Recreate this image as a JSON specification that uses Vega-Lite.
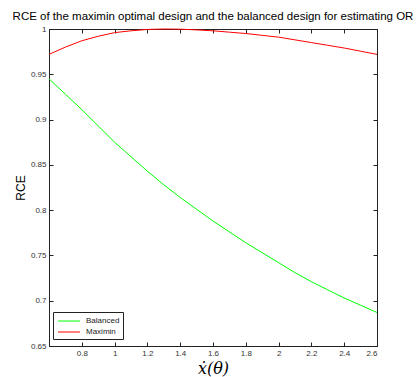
{
  "$schema": "https://vega.github.io/schema/vega-lite/v6.json",
  "width": 328,
  "height": 317,
  "autosize": {"type": "none"},
  "padding": {"left": 49, "top": 29, "right": 40, "bottom": 31},
  "background": "white",
  "title": {
    "text": "RCE of the maximin optimal design and the balanced design for estimating OR",
    "font": "Liberation Sans",
    "fontSize": 11.5,
    "fontWeight": "normal",
    "color": "#000",
    "anchor": "middle",
    "offset": 3
  },
  "config": {
    "view": {"stroke": "#222", "strokeWidth": 1},
    "axis": {
      "grid": false,
      "domainColor": "#222",
      "tickColor": "#222",
      "tickSize": -4,
      "labelFont": "Liberation Sans",
      "labelFontSize": 8,
      "labelColor": "#333",
      "titleColor": "#000"
    }
  },
  "data": {
    "values": [
      {"x": 0.6, "rce": 0.945, "design": "Balanced"},
      {"x": 0.7, "rce": 0.928, "design": "Balanced"},
      {"x": 0.8, "rce": 0.911, "design": "Balanced"},
      {"x": 0.9, "rce": 0.893, "design": "Balanced"},
      {"x": 1.0, "rce": 0.875, "design": "Balanced"},
      {"x": 1.1, "rce": 0.859, "design": "Balanced"},
      {"x": 1.2, "rce": 0.843, "design": "Balanced"},
      {"x": 1.3, "rce": 0.828, "design": "Balanced"},
      {"x": 1.4, "rce": 0.814, "design": "Balanced"},
      {"x": 1.5, "rce": 0.801, "design": "Balanced"},
      {"x": 1.6, "rce": 0.788, "design": "Balanced"},
      {"x": 1.7, "rce": 0.776, "design": "Balanced"},
      {"x": 1.8, "rce": 0.764, "design": "Balanced"},
      {"x": 1.9, "rce": 0.753, "design": "Balanced"},
      {"x": 2.0, "rce": 0.742, "design": "Balanced"},
      {"x": 2.1, "rce": 0.731, "design": "Balanced"},
      {"x": 2.2, "rce": 0.721, "design": "Balanced"},
      {"x": 2.3, "rce": 0.712, "design": "Balanced"},
      {"x": 2.4, "rce": 0.703, "design": "Balanced"},
      {"x": 2.5, "rce": 0.695, "design": "Balanced"},
      {"x": 2.6, "rce": 0.687, "design": "Balanced"},
      {"x": 0.6, "rce": 0.972, "design": "Maximin"},
      {"x": 0.7, "rce": 0.980, "design": "Maximin"},
      {"x": 0.8, "rce": 0.987, "design": "Maximin"},
      {"x": 0.9, "rce": 0.992, "design": "Maximin"},
      {"x": 1.0, "rce": 0.996, "design": "Maximin"},
      {"x": 1.1, "rce": 0.998, "design": "Maximin"},
      {"x": 1.2, "rce": 0.9995, "design": "Maximin"},
      {"x": 1.3, "rce": 1.0, "design": "Maximin"},
      {"x": 1.4, "rce": 0.9998, "design": "Maximin"},
      {"x": 1.5, "rce": 0.999, "design": "Maximin"},
      {"x": 1.6, "rce": 0.998, "design": "Maximin"},
      {"x": 1.7, "rce": 0.9965, "design": "Maximin"},
      {"x": 1.8, "rce": 0.995, "design": "Maximin"},
      {"x": 1.9, "rce": 0.993, "design": "Maximin"},
      {"x": 2.0, "rce": 0.991, "design": "Maximin"},
      {"x": 2.1, "rce": 0.988, "design": "Maximin"},
      {"x": 2.2, "rce": 0.985, "design": "Maximin"},
      {"x": 2.3, "rce": 0.982, "design": "Maximin"},
      {"x": 2.4, "rce": 0.979, "design": "Maximin"},
      {"x": 2.5, "rce": 0.9755, "design": "Maximin"},
      {"x": 2.6, "rce": 0.972, "design": "Maximin"}
    ]
  },
  "layer": [
    {
      "mark": {"type": "line", "strokeWidth": 1},
      "encoding": {
        "x": {
          "field": "x", "type": "quantitative",
          "scale": {"domain": [0.6, 2.6], "nice": false, "zero": false},
          "axis": {
            "values": [0.8, 1, 1.2, 1.4, 1.6, 1.8, 2, 2.2, 2.4, 2.6],
            "format": "~g",
            "labelPadding": 7,
            "title": "ẋ(θ)",
            "titleFont": "DejaVu Serif",
            "titleFontStyle": "italic",
            "titleFontWeight": "normal",
            "titleFontSize": 16,
            "titlePadding": 3
          }
        },
        "y": {
          "field": "rce", "type": "quantitative",
          "scale": {"domain": [0.65, 1], "nice": false, "zero": false},
          "axis": {
            "values": [0.65, 0.7, 0.75, 0.8, 0.85, 0.9, 0.95, 1],
            "format": "~g",
            "labelPadding": 7,
            "title": "RCE",
            "titleFont": "Liberation Sans",
            "titleFontSize": 12,
            "titleFontWeight": "normal",
            "titlePadding": 3
          }
        },
        "color": {
          "field": "design", "type": "nominal",
          "scale": {"domain": ["Balanced", "Maximin"], "range": ["#00ff00", "#ff0000"]},
          "legend": {
            "title": null,
            "orient": "none",
            "legendX": 4,
            "legendY": 283,
            "symbolType": "M-2,0H2",
            "symbolSize": 121,
            "symbolOffset": 7,
            "symbolStrokeWidth": 1,
            "labelFont": "Liberation Sans",
            "labelFontSize": 8,
            "labelColor": "#222",
            "fillColor": "white",
            "strokeColor": "#222",
            "padding": 3,
            "rowPadding": 1,
            "labelOffset": 11
          }
        }
      }
    },
    {
      "mark": {"type": "line", "opacity": 0},
      "encoding": {
        "x": {
          "field": "x", "type": "quantitative",
          "axis": {
            "orient": "top",
            "values": [0.8, 1, 1.2, 1.4, 1.6, 1.8, 2, 2.2, 2.4, 2.6],
            "labels": false,
            "title": null
          }
        },
        "y": {
          "field": "rce", "type": "quantitative",
          "axis": {
            "orient": "right",
            "values": [0.65, 0.7, 0.75, 0.8, 0.85, 0.9, 0.95, 1],
            "labels": false,
            "title": null
          }
        },
        "detail": {"field": "design"}
      }
    }
  ],
  "resolve": {"axis": {"x": "independent", "y": "independent"}}
}
